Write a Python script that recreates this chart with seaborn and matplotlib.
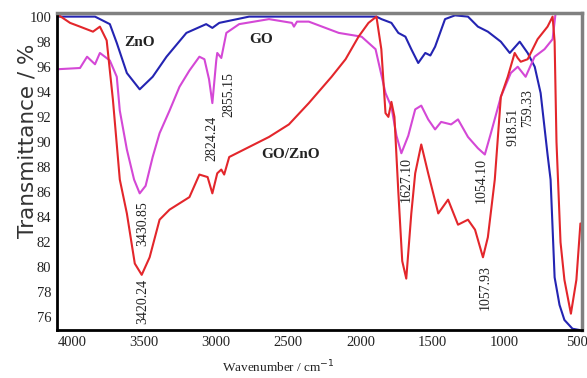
import matplotlib
matplotlib.use("Agg")
import matplotlib.pyplot as plt
import seaborn as sns
import pandas as pd

# FTIR spectra (wavenumber cm-1, transmittance %)
zno_wn = [4104, 3841, 3738, 3690, 3620, 3531, 3441, 3345, 3207, 3070, 3027, 2979, 2772,
          1889, 1854, 1785, 1737, 1688, 1647, 1599, 1550, 1515, 1482, 1413, 1344, 1254,
          1185, 1116, 1026, 964, 895, 840, 791, 750, 702, 681, 653, 619, 585, 529, 481]
zno_t = [100.0, 100.0, 99.4, 97.9, 95.5, 94.2, 95.2, 96.8, 98.7, 99.4, 99.1, 99.5, 100.0,
         100.0, 99.8, 99.5, 98.7, 98.4, 97.4, 96.3, 97.1, 96.9, 97.6, 99.8, 100.1, 100.0,
         99.2, 98.8, 98.0, 97.1, 98.0, 97.1, 96.0, 93.9, 89.0, 87.0, 79.2, 77.0, 75.8, 75.1, 75.0]

go_wn = [4104, 3945, 3896, 3841, 3807, 3738, 3690, 3669, 3620, 3570, 3531, 3490, 3441, 3393,
         3324, 3255, 3186, 3117, 3082, 3050, 3027, 3000, 2993, 2965, 2930, 2841, 2634, 2475,
         2461, 2440, 2358, 2150, 1992, 1895, 1826, 1785, 1750, 1716, 1668, 1620, 1578, 1530,
         1482, 1440, 1371, 1323, 1254, 1185, 1137, 1095, 1026, 957, 909, 854, 792, 723, 667, 646]
go_t = [95.8, 95.9, 96.8, 96.2, 97.1, 96.5, 95.2, 92.5, 89.4, 87.0, 85.9, 86.5, 88.8, 90.7,
        92.5, 94.4, 95.7, 96.8, 96.6, 95.0, 93.1, 96.5, 97.1, 96.7, 98.7, 99.4, 99.8, 99.5,
        99.2, 99.6, 99.6, 98.7, 98.4, 97.4, 93.9, 92.8, 90.5, 89.1, 90.5, 92.6, 92.9, 91.8,
        91.0, 91.6, 91.4, 91.8, 90.4, 89.5, 89.0, 90.7, 93.6, 95.5, 96.0, 95.2, 96.8, 97.4, 98.2, 100.3]

gozno_wn = [4104, 4014, 3945, 3855, 3807, 3760, 3717, 3669, 3620, 3565, 3517, 3462, 3393, 3324,
            3186, 3117, 3060, 3027, 2993, 2965, 2945, 2910, 2772, 2634, 2496, 2358, 2200, 2103,
            2013, 1944, 1889, 1855, 1826, 1806, 1785, 1764, 1737, 1710, 1682, 1647, 1620, 1578,
            1530, 1460, 1392, 1323, 1254, 1205, 1150, 1116, 1068, 1026, 978, 930, 909, 888, 840,
            771, 702, 667, 653, 640, 612, 585, 540, 502, 474]
gozno_t = [100.2, 99.5, 99.2, 98.8, 99.2, 98.1, 93.4, 87.0, 84.3, 80.3, 79.4, 80.8, 83.8, 84.6,
           85.6, 87.4, 87.2, 85.9, 87.5, 87.8, 87.4, 88.8, 89.6, 90.4, 91.4, 93.1, 95.2, 96.6,
           98.4, 99.5, 100.0, 97.4, 92.3, 92.0, 93.2, 92.0, 86.0, 80.5, 79.1, 84.3, 87.5, 89.8,
           87.5, 84.3, 85.4, 83.4, 83.8, 83.0, 80.8, 82.4, 87.0, 93.6, 95.2, 97.1, 96.7, 96.4, 96.6,
           98.2, 99.2, 100.0, 98.0, 90.0, 82.0, 79.0, 76.3, 79.0, 83.5]

# peak labels: text, wavenumber position, transmittance position
peak_labels = ["3430.85", "3420.24", "2824.24", "2855.15", "1627.10", "1054.10", "1057.93", "918.51", "759.33"]
peak_x = [3510, 3510, 3027, 2910, 1682, 1164, 1136, 943, 840]
peak_y = [83.5, 77.3, 90.3, 93.8, 87.0, 86.9, 78.4, 91.2, 92.7]

sample_names = ["ZnO", "GO", "GO/ZnO"]
name_x = [3530, 2689, 2482]
name_y = [97.9, 98.2, 89.0]

colors = {"ZnO": "#2424b2", "GO": "#d448d6", "GO/ZnO": "#e3262b"}

df = pd.concat([
    pd.DataFrame({"wn": zno_wn, "T": zno_t, "sample": "ZnO"}),
    pd.DataFrame({"wn": go_wn, "T": go_t, "sample": "GO"}),
    pd.DataFrame({"wn": gozno_wn, "T": gozno_t, "sample": "GO/ZnO"}),
])

sns.set_style("white")
plt.rcParams['font.family'] = ['Liberation Serif', 'DejaVu Serif']

fig = plt.figure(figsize=(5.87, 3.78), dpi=100)
ax = fig.add_axes([0.097, 0.127, 0.894, 0.839])

sns.lineplot(data=df, x="wn", y="T", hue="sample", palette=colors, sort=False,
             estimator=None, linewidth=1.5, legend=False, ax=ax)

ax.set_xlim(4105, 465)
ax.set_ylim(75, 100.3)
ax.set_xticks([4000, 3500, 3000, 2500, 2000, 1500, 1000, 500])
ax.set_yticks(list(range(76, 101, 2)))
ax.tick_params(labelsize=10.5, length=2, width=0.8, colors='#222222', pad=2)
ax.set_xlabel("")
ax.set_ylabel("")

for side in ["left", "bottom"]:
    ax.spines[side].set_color("black")
    ax.spines[side].set_linewidth(2)
for side in ["top", "right"]:
    ax.spines[side].set_color("#808080")
    ax.spines[side].set_linewidth(2.5)

for lab, x, y in zip(peak_labels, peak_x, peak_y):
    ax.text(x, y, lab, rotation=90, ha='center', va='center', fontsize=10, color='#222222')

for name, x, y in zip(sample_names, name_x, name_y):
    ax.text(x, y, name, ha='center', va='center', fontsize=11, fontweight='bold', color='#222222')

fig.text(0.046, 0.627, "Transmittance / %", rotation=90, ha='center', va='center',
         fontsize=15.5, family='DejaVu Sans', color='#333333')
fig.text(0.474, 0.03, "Wavenumber / cm$^{-1}$", ha='center', va='center', fontsize=9.5, color='#222222')

fig.savefig("out.png", dpi=100)
